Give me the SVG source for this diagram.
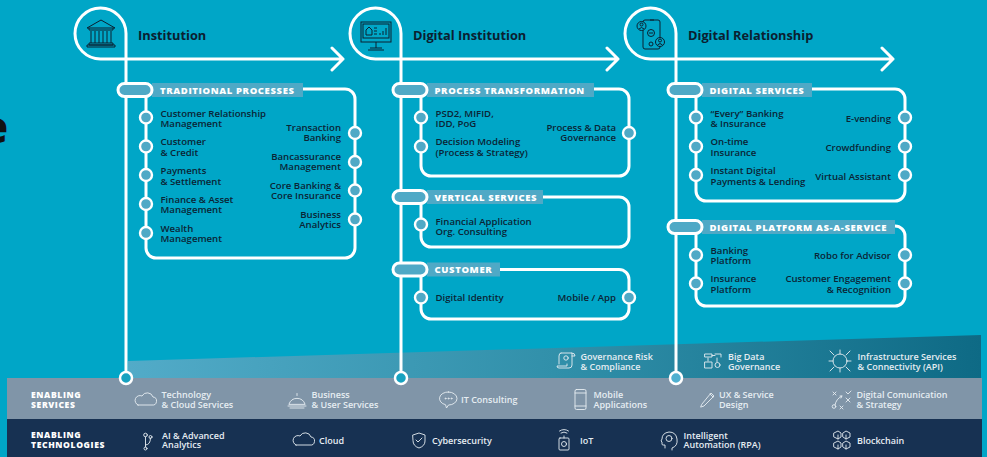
<svg xmlns="http://www.w3.org/2000/svg" width="987" height="457" viewBox="0 0 987 457">
<style>
text{font-family:"Open Sans","Noto Sans","Liberation Sans",sans-serif}
.t{font-size:9.6px;font-weight:600;fill:#0b2435}
.e{text-anchor:end}
.h{font-size:12.8px;font-weight:700;fill:#0b2030}
.l{font-size:9.5px;font-weight:800;fill:#fff;letter-spacing:.62px}
.b{font-size:8.6px;font-weight:800;fill:#fff;letter-spacing:.6px}
.s{font-size:9px;font-weight:600;fill:#e6edf2}
.w{fill:none;stroke:#fff;stroke-width:3;stroke-linecap:round;stroke-linejoin:round}
.n{fill:#4fa9c6;stroke:#fff;stroke-width:2.4}
.p{fill:#4fa9c6;stroke:#fff;stroke-width:3}
.r{fill:#4fa9c6}
.i{fill:none;stroke:#0b2030;stroke-width:1}
.k{fill:none;stroke:#e6edf2;stroke-width:.9;stroke-linecap:round;stroke-linejoin:round}
</style>
<defs>
<linearGradient id="wedge" x1="0" x2="1" y1="0" y2="0"><stop offset="0" stop-color="#52abc8"/><stop offset=".5" stop-color="#3190aa"/><stop offset="1" stop-color="#0e6a85"/></linearGradient>
<path id="cloud" d="M3 13h14a4 4 0 0 0 1-8 6 6 0 0 0-11-1 4.500 4.500 0 0 0-4 9z"/>
<g id="head"><path class="w" d="M51 319V-25.500A25.500 25.500 0 0 0 0-25.500A25.500 25.500 0 0 0 25.500 0H268M257-11L268 0L257 11"/></g>
</defs>
<rect width="987" height="457" fill="#00a6c7"/>
<text x="-19" y="143" font-size="44" style="font-weight:800;fill:#111">e</text>
<polygon points="128,361 981,335 981,378 128,378" fill="url(#wedge)"/>
<rect x="7" y="378" width="975" height="41" fill="#8095a8"/>
<rect x="7" y="419" width="975" height="38" fill="#173152"/>

<g id="connectors">
<use href="#head" x="75" y="59"/>
<use href="#head" x="350" y="59"/>
<use href="#head" x="625" y="59"/>
<path class="w" d="M303 89H345a10 10 0 0 1 10 10V248a10 10 0 0 1-10 10H156a10 10 0 0 1-10-10V97"/>
<path class="w" d="M594 89H619a10 10 0 0 1 10 10V166a10 10 0 0 1-10 10H431a10 10 0 0 1-10-10V97"/>
<path class="w" d="M543 197H619a10 10 0 0 1 10 10V237a10 10 0 0 1-10 10H431a10 10 0 0 1-10-10V204"/>
<path class="w" d="M500 269.500H619a10 10 0 0 1 10 10V309a10 10 0 0 1-10 10H431a10 10 0 0 1-10-10V276"/>
<path class="w" d="M812 89H895a10 10 0 0 1 10 10V191a10 10 0 0 1-10 10H706a10 10 0 0 1-10-10V97"/>
<path class="w" d="M895 226a10 10 0 0 1 10 10V296a10 10 0 0 1-10 10H706a10 10 0 0 1-10-10V234"/>
</g>

<g id="stage-institution">
<g class="i" transform="translate(87,19)"><path d="M0 9L14 1L28 9ZM2 9v2h24V9M4 12v12M8 12v12M12 12v12M16 12v12M20 12v12M24 12v12M2 24h24v2H2zM0 26h28v2H0z"/></g>
<text class="h" x="138" y="40">Institution</text>
</g>
<g id="stage-digital-institution">
<g class="i" transform="translate(360,21)"><rect x="1" y="1" width="30" height="20"/><rect x="3" y="3" width="26" height="14"/><path d="M6 14V9l3-3 3 3v5zM14 7h3M14 10h3M14 13h3M20 14v-2M23 14v-4M26 14V7M16 21v6M8 29h16M10 27h12"/></g>
<text class="h" x="413" y="40">Digital Institution</text>
</g>
<g id="stage-digital-relationship">
<g class="i" transform="translate(636,18)"><rect x="7" y="2" width="17" height="29" rx="2"/><circle cx="5.500" cy="8" r="4.500" fill="#00a6c7"/><circle cx="15" cy="15" r="3.500" fill="#00a6c7"/><circle cx="24" cy="24" r="4.500" fill="#00a6c7"/><circle cx="15" cy="26" r="2"/><circle cx="5.500" cy="6.500" r="1.500"/><path d="M3 11q2.500-3 5 0M21.500 27q2.500-3 5 0M13 15h4M14 2h4"/><circle cx="24" cy="22.500" r="1.500"/></g>
<text class="h" x="688" y="40">Digital Relationship</text>
</g>

<g id="traditional-processes">
<rect class="r" x="152" y="83" width="151" height="14"/>
<rect class="p" x="118" y="83.500" width="34" height="13" rx="6.500"/>
<text class="l" x="160" y="94">TRADITIONAL PROCESSES</text>
</g>
<g id="crm"><circle class="n" cx="146" cy="117.500" r="6"/><text class="t" x="160.500" y="117">Customer Relationship</text><text class="t" x="160.500" y="127">Management</text></g>
<g id="customer-credit"><circle class="n" cx="146" cy="146.500" r="6"/><text class="t" x="160.500" y="145">Customer</text><text class="t" x="160.500" y="156">&amp; Credit</text></g>
<g id="payments"><circle class="n" cx="146" cy="175" r="6"/><text class="t" x="160.500" y="174">Payments</text><text class="t" x="160.500" y="185">&amp; Settlement</text></g>
<g id="finance"><circle class="n" cx="146" cy="204" r="6"/><text class="t" x="160.500" y="203">Finance &amp; Asset</text><text class="t" x="160.500" y="213">Management</text></g>
<g id="wealth"><circle class="n" cx="146" cy="233" r="6"/><text class="t" x="160.500" y="232">Wealth</text><text class="t" x="160.500" y="242">Management</text></g>
<g id="transaction"><circle class="n" cx="355" cy="133" r="6"/><text class="t e" x="341" y="131">Transaction</text><text class="t e" x="341" y="141">Banking</text></g>
<g id="bancassurance"><circle class="n" cx="355" cy="162" r="6"/><text class="t e" x="341" y="160">Bancassurance</text><text class="t e" x="341" y="170">Management</text></g>
<g id="core"><circle class="n" cx="355" cy="190.500" r="6"/><text class="t e" x="341" y="189">Core Banking &amp;</text><text class="t e" x="341" y="199">Core Insurance</text></g>
<g id="analytics"><circle class="n" cx="355" cy="219.500" r="6"/><text class="t e" x="341" y="218">Business</text><text class="t e" x="341" y="228">Analytics</text></g>

<g id="process-transformation">
<rect class="r" x="427" y="83" width="167" height="14"/>
<rect class="p" x="393" y="83.500" width="34" height="13" rx="6.500"/>
<text class="l" x="434.500" y="94">PROCESS TRANSFORMATION</text>
</g>
<g id="psd2"><circle class="n" cx="421" cy="117.500" r="6"/><text class="t" x="435.500" y="117">PSD2, MIFID,</text><text class="t" x="435.500" y="127">IDD, PoG</text></g>
<g id="decision"><circle class="n" cx="421" cy="146.500" r="6"/><text class="t" x="435.500" y="145">Decision Modeling</text><text class="t" x="435.500" y="156">(Process &amp; Strategy)</text></g>
<g id="governance"><circle class="n" cx="629" cy="133" r="6"/><text class="t e" x="616" y="131">Process &amp; Data</text><text class="t e" x="616" y="141">Governance</text></g>

<g id="vertical-services">
<rect class="r" x="427" y="190" width="116" height="14"/>
<rect class="p" x="393" y="190.500" width="34" height="13" rx="6.500"/>
<text class="l" x="434.500" y="200.500">VERTICAL SERVICES</text>
</g>
<g id="financial"><circle class="n" cx="421" cy="224.500" r="6"/><text class="t" x="435.500" y="225">Financial Application</text><text class="t" x="435.500" y="235">Org. Consulting</text></g>

<g id="customer">
<rect class="r" x="427" y="262.500" width="73" height="14"/>
<rect class="p" x="393" y="263" width="34" height="13" rx="6.500"/>
<text class="l" x="434.500" y="273">CUSTOMER</text>
</g>
<g id="identity"><circle class="n" cx="421" cy="297.500" r="6"/><text class="t" x="435.500" y="301">Digital Identity</text></g>
<g id="mobile"><circle class="n" cx="629" cy="297.500" r="6"/><text class="t e" x="616" y="301">Mobile / App</text></g>

<g id="digital-services">
<rect class="r" x="702" y="83" width="110" height="14"/>
<rect class="p" x="668" y="83.500" width="34" height="13" rx="6.500"/>
<text class="l" x="709.500" y="94">DIGITAL SERVICES</text>
</g>
<g id="every"><circle class="n" cx="696" cy="117.500" r="6"/><text class="t" x="710.500" y="117">“Every” Banking</text><text class="t" x="710.500" y="127">&amp; Insurance</text></g>
<g id="ontime"><circle class="n" cx="696" cy="146.500" r="6"/><text class="t" x="710.500" y="145">On-time</text><text class="t" x="710.500" y="156">Insurance</text></g>
<g id="instant"><circle class="n" cx="696" cy="175" r="6"/><text class="t" x="710.500" y="174">Instant Digital</text><text class="t" x="710.500" y="185">Payments &amp; Lending</text></g>
<g id="evending"><circle class="n" cx="905" cy="117.500" r="6"/><text class="t e" x="891" y="122">E-vending</text></g>
<g id="crowd"><circle class="n" cx="905" cy="146.500" r="6"/><text class="t e" x="891" y="151">Crowdfunding</text></g>
<g id="assistant"><circle class="n" cx="905" cy="175" r="6"/><text class="t e" x="891" y="179.500">Virtual Assistant</text></g>

<g id="platform">
<rect class="r" x="702" y="220" width="193" height="14"/>
<rect class="p" x="668" y="220.500" width="34" height="13" rx="6.500"/>
<text class="l" x="709.500" y="230.500">DIGITAL PLATFORM AS-A-SERVICE</text>
</g>
<g id="banking"><circle class="n" cx="696" cy="255" r="6"/><text class="t" x="710.500" y="254">Banking</text><text class="t" x="710.500" y="264">Platform</text></g>
<g id="insurance"><circle class="n" cx="696" cy="283.500" r="6"/><text class="t" x="710.500" y="282">Insurance</text><text class="t" x="710.500" y="293">Platform</text></g>
<g id="robo"><circle class="n" cx="905" cy="255" r="6"/><text class="t e" x="891" y="259">Robo for Advisor</text></g>
<g id="engagement"><circle class="n" cx="905" cy="283.500" r="6"/><text class="t e" x="891" y="282">Customer Engagement</text><text class="t e" x="891" y="293">&amp; Recognition</text></g>

<g id="ends">
<circle cx="126" cy="378" r="6" fill="#17a2c0" stroke="#fff" stroke-width="2.500"/>
<circle cx="401" cy="378" r="6" fill="#17a2c0" stroke="#fff" stroke-width="2.500"/>
<circle cx="676" cy="378" r="6" fill="#4fb0d0" stroke="#fff" stroke-width="2.500"/>
</g>

<g id="governance-risk"><path class="k" d="M561 353h11v12q0 3-3 3h-10q-2 0-2-2h10v-2M561 353q-2 0-2 3v8M572 353q3 0 3 3h-3"/><circle class="k" cx="566" cy="358" r="2.200"/><text class="s" x="580.500" y="359.500">Governance Risk</text><text class="s" x="580.500" y="369.500">&amp; Compliance</text></g>
<g id="big-data"><path class="k" d="M705 354h7v3h-7zM715 354h6v3M712 355.500h3M708 358v3M705 362h7v6h-7zM717 358v4"/><circle class="k" cx="717.500" cy="365" r="2.500"/><text class="s" x="728" y="359.500">Big Data</text><text class="s" x="728" y="369.500">Governance</text></g>
<g id="infrastructure"><circle class="k" cx="840" cy="361" r="7"/><path class="k" d="M830 351l4 4M850 351l-4 4M830 371l4-4M850 371l-4-4M829 361h4M847 361h4M840 350v4M840 368v4"/><text class="s" x="857.500" y="359.500">Infrastructure Services</text><text class="s" x="857.500" y="369.500">&amp; Connectivity (API)</text></g>

<g id="enabling-services"><text class="b" x="31" y="398">ENABLING</text><text class="b" x="31" y="408">SERVICES</text></g>
<g id="tech-cloud"><use href="#cloud" class="k" x="135" y="392"/><text class="s" x="161.500" y="398">Technology</text><text class="s" x="161.500" y="407.500">&amp; Cloud Services</text></g>
<g id="business"><path class="k" d="M289 404a8.500 8.500 0 0 1 16 0zM297 395.500v-2M288 406h18M290 408h14"/><text class="s" x="311.500" y="398">Business</text><text class="s" x="311.500" y="407.500">&amp; User Services</text></g>
<g id="it"><path class="k" d="M448.500 392a8.500 6.500 0 1 1 0 13l-2 3-1-3.300a8.500 6.500 0 0 1 3-12.700z"/><circle class="k" cx="445.500" cy="398.500" r=".5"/><circle class="k" cx="448.500" cy="398.500" r=".5"/><circle class="k" cx="451.500" cy="398.500" r=".5"/><text class="s" x="461" y="402.500">IT Consulting</text></g>
<g id="mobile-apps"><rect class="k" x="575" y="389.500" width="11" height="20" rx="1.500"/><path class="k" d="M575 393h11M575 406h11"/><text class="s" x="593.500" y="398">Mobile</text><text class="s" x="593.500" y="407.500">Applications</text></g>
<g id="ux"><path class="k" d="M702 404l9-11 3 3-10 10-3 1zM710 394l3 3"/><text class="s" x="719" y="398">UX &amp; Service</text><text class="s" x="719" y="407.500">Design</text></g>
<g id="communication"><path class="k" d="M833 392l3 3M836 392l-3 3M846 392l2 2 3-3M846 398l4 4M850 398l-4 4M840 406l3 3M843 406l-3 3M835 405q1-6 7-9l-2 0M842 396l-1 2"/><circle class="k" cx="834" cy="406.500" r="1.800"/><text class="s" x="856.500" y="398">Digital Comunication</text><text class="s" x="856.500" y="407.500">&amp; Strategy</text></g>

<g id="enabling-technologies"><text class="b" x="31" y="438">ENABLING</text><text class="b" x="31" y="448">TECHNOLOGIES</text></g>
<g id="ai"><path class="k" d="M145.500 437v10M145.500 445q5 0 5-7"/><circle class="k" cx="145.500" cy="435" r="1.800"/><circle class="k" cx="145.500" cy="448.500" r="1.500"/><circle class="k" cx="150.500" cy="437" r="1.500"/><text class="s" x="162" y="438.500">AI &amp; Advanced</text><text class="s" x="162" y="447.500">Analytics</text></g>
<g id="cloud-tech"><use href="#cloud" class="k" x="293" y="432"/><text class="s" x="319" y="443.500">Cloud</text></g>
<g id="cyber"><path class="k" d="M413 435l6-2 6 2v6q0 5-6 7-6-2-6-7zM416 440l2 2 4-4"/><text class="s" x="432" y="443.500">Cybersecurity</text></g>
<g id="iot"><rect class="k" x="559" y="438" width="10" height="12" rx="1"/><circle class="k" cx="564" cy="444" r="2.500"/><path class="k" d="M564 438v-2M561 433q3-2 6 0M559.500 431q4.500-3 9 0"/><text class="s" x="580" y="443.500">IoT</text></g>
<g id="rpa"><path class="k" d="M665 448v-3h-2q-1 0-1-1v-2l-1-1 1-2q0-6 7-7 7 0 8 7t-5 9v2"/><circle class="k" cx="669" cy="438.500" r="3"/><text class="s" x="683.500" y="438.500">Intelligent</text><text class="s" x="683.500" y="447.500">Automation (RPA)</text></g>
<g id="blockchain"><path class="k" d="M834 433l4-2 3 2v4l-3 2-4-2zM843 433l3-2 4 2v4l-4 2-3-2zM834 443l4-2 3 2v4l-3 2-4-2zM843 443l3-2 4 2v4l-4 2-3-2zM838 435v4M846 435v4M838 445v4M846 445v4"/><text class="s" x="857" y="443.500">Blockchain</text></g>
</svg>
